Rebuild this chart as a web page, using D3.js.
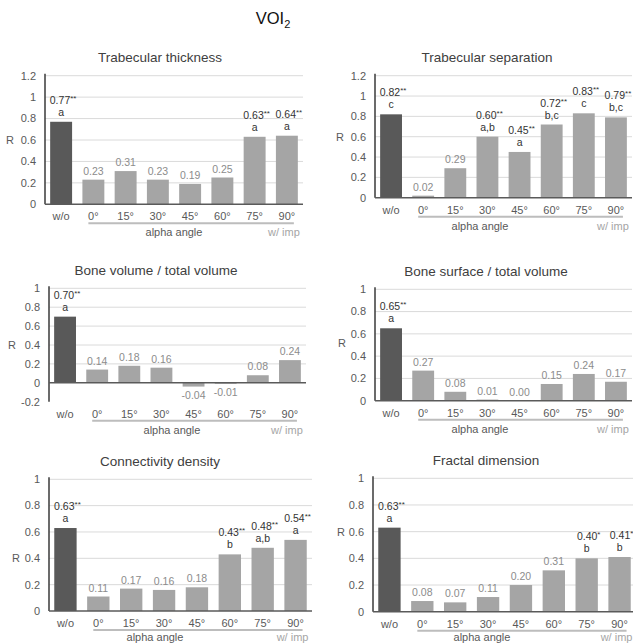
<!DOCTYPE html>
<html>
<head>
<meta charset="utf-8">
<script src="https://cdn.jsdelivr.net/npm/d3@7"></script>
<style>
  body { margin: 0; background: #fff; }
  svg { font-family: "Liberation Sans", Arial, sans-serif; }
</style>
</head>
<body>
<svg id="chart" width="633" height="644"></svg>
<script>
// categories on the x axis
const categories = ["w/o", "0°", "15°", "30°", "45°", "60°", "75°", "90°"];

// Trabecular thickness
const tbThValues = [0.77, 0.23, 0.31, 0.23, 0.19, 0.25, 0.63, 0.64];
const tbThStars = ["**", "", "", "", "", "", "**", "**"];
const tbThLetters = ["a", "", "", "", "", "", "a", "a"];

// Trabecular separation
const tbSpValues = [0.82, 0.02, 0.29, 0.60, 0.45, 0.72, 0.83, 0.79];
const tbSpStars = ["**", "", "", "**", "**", "**", "**", "**"];
const tbSpLetters = ["c", "", "", "a,b", "a", "b,c", "c", "b,c"];

// Bone volume / total volume
const bvTvValues = [0.70, 0.14, 0.18, 0.16, -0.04, -0.01, 0.08, 0.24];
const bvTvStars = ["**", "", "", "", "", "", "", ""];
const bvTvLetters = ["a", "", "", "", "", "", "", ""];

// Bone surface / total volume
const bsTvValues = [0.65, 0.27, 0.08, 0.01, 0.00, 0.15, 0.24, 0.17];
const bsTvStars = ["**", "", "", "", "", "", "", ""];
const bsTvLetters = ["a", "", "", "", "", "", "", ""];

// Connectivity density
const connDValues = [0.63, 0.11, 0.17, 0.16, 0.18, 0.43, 0.48, 0.54];
const connDStars = ["**", "", "", "", "", "**", "**", "**"];
const connDLetters = ["a", "", "", "", "", "b", "a,b", "a"];

// Fractal dimension
const fdValues = [0.63, 0.08, 0.07, 0.11, 0.20, 0.31, 0.40, 0.41];
const fdStars = ["**", "", "", "", "", "", "*", "*"];
const fdLetters = ["a", "", "", "", "", "", "b", "b"];

const yDomainTall = [0, 1.2];
const yDomainNeg = [-0.2, 1];
const yDomainStd = [0, 1];

const svg = d3.select("#chart");

// figure title
const main = svg.append("text")
    .attr("x", 273)
    .attr("y", 24)
    .attr("text-anchor", "middle")
    .attr("font-size", 16.5)
    .attr("fill", "#111");
main.append("tspan").text("VOI");
main.append("tspan").attr("font-size", 11).attr("dy", 4).text("2");

function drawPanel(p) {
  const g = svg.append("g");

  const x = d3.scaleBand()
      .domain(categories)
      .range([p.left, p.right])
      .paddingInner(0.32)
      .paddingOuter(0.16);

  const y = d3.scaleLinear()
      .domain(p.domain)
      .range([p.bottom, p.top]);

  const ticks = d3.range(p.domain[0], p.domain[1] + 0.001, 0.2).map(d => Math.round(d * 10) / 10);

  // gridlines
  g.selectAll(".grid")
      .data(ticks.filter(d => d > 0))
      .enter().append("line")
      .attr("x1", p.left).attr("x2", p.right)
      .attr("y1", d => y(d)).attr("y2", d => y(d))
      .attr("stroke", "#dadada")
      .attr("stroke-width", 1);

  // y tick labels
  g.selectAll(".ytick")
      .data(ticks)
      .enter().append("text")
      .attr("x", p.left - 9)
      .attr("y", d => y(d))
      .attr("dy", "0.35em")
      .attr("text-anchor", "end")
      .attr("font-size", 11)
      .attr("fill", "#595959")
      .text(d => String(d));

  // R label
  g.append("text")
      .attr("x", p.rX)
      .attr("y", y(p.rAt))
      .attr("dy", "0.35em")
      .attr("font-size", 11)
      .attr("fill", "#595959")
      .text("R");

  // bars
  g.selectAll(".bar")
      .data(p.values)
      .enter().append("rect")
      .attr("x", (d, i) => x(categories[i]))
      .attr("y", d => y(Math.max(d, 0)))
      .attr("width", x.bandwidth())
      .attr("height", d => Math.abs(y(d) - y(0)))
      .attr("fill", (d, i) => i === 0 ? "#595959" : "#a5a5a5");

  // axes lines
  g.append("line")
      .attr("x1", p.left).attr("x2", p.left)
      .attr("y1", p.top - 2).attr("y2", p.bottom)
      .attr("stroke", "#3a3a3a").attr("stroke-width", 1.5);
  g.append("line")
      .attr("x1", p.left).attr("x2", p.right)
      .attr("y1", y(0)).attr("y2", y(0))
      .attr("stroke", "#5a5a5a").attr("stroke-width", 1.5);

  // value labels
  p.values.forEach((v, i) => {
    const cx = x(categories[i]) + x.bandwidth() / 2;
    const sig = p.stars[i] !== "";
    if (!sig) {
      const yy = v < 0 ? y(v) + 12 : y(v) - 5;
      g.append("text")
          .attr("x", cx).attr("y", yy)
          .attr("text-anchor", "middle")
          .attr("font-size", 10.5)
          .attr("fill", "#8c8c8c")
          .text(v.toFixed(2));
    } else {
      const base = y(v) - 6;
      g.append("text")
          .attr("x", cx).attr("y", base)
          .attr("text-anchor", "middle")
          .attr("font-size", 10.5)
          .attr("fill", "#333")
          .text(p.letters[i]);
      const t = g.append("text")
          .attr("x", cx + 2).attr("y", base - 12)
          .attr("text-anchor", "middle")
          .attr("font-size", 10.5)
          .attr("fill", "#333");
      t.append("tspan").text(v.toFixed(2));
      t.append("tspan").attr("font-size", 8).attr("dy", -3).text(p.stars[i]);
    }
  });

  // x tick labels
  const labelY = p.bottom + 16;
  g.selectAll(".xtick")
      .data(categories)
      .enter().append("text")
      .attr("x", d => x(d) + x.bandwidth() / 2)
      .attr("y", labelY)
      .attr("text-anchor", "middle")
      .attr("font-size", 11)
      .attr("fill", "#595959")
      .text(d => d);

  // bracket line under angle labels
  const c0 = x(categories[1]) + x.bandwidth() / 2;
  const c7 = x(categories[7]) + x.bandwidth() / 2;
  g.append("line")
      .attr("x1", c0 - 5).attr("x2", c7 + 7)
      .attr("y1", labelY + 3).attr("y2", labelY + 3)
      .attr("stroke", "#bdbdbd").attr("stroke-width", 2);

  g.append("text")
      .attr("x", p.alphaX).attr("y", labelY + p.subDy)
      .attr("text-anchor", "middle")
      .attr("font-size", 11)
      .attr("fill", "#595959")
      .text("alpha angle");

  g.append("text")
      .attr("x", c7 - 3).attr("y", labelY + p.subDy)
      .attr("text-anchor", "middle")
      .attr("font-size", 11)
      .attr("fill", "#a5a5a5")
      .text("w/ imp");

  // panel title
  g.append("text")
      .attr("x", p.titleX).attr("y", p.top - 18)
      .attr("dy", "0.35em")
      .attr("text-anchor", "middle")
      .attr("font-size", 13.5)
      .attr("fill", "#404040")
      .text(p.title);
}

const panels = [
  { title: "Trabecular thickness", values: tbThValues, stars: tbThStars, letters: tbThLetters,
    domain: yDomainTall, left: 45, right: 303, top: 75.7, bottom: 204.3, titleX: 160, rX: 6, rAt: 0.6, alphaX: 174, subDy: 16 },
  { title: "Trabecular separation", values: tbSpValues, stars: tbSpStars, letters: tbSpLetters,
    domain: yDomainTall, left: 375, right: 632, top: 75.7, bottom: 197.7, titleX: 487, rX: 336, rAt: 0.6, alphaX: 480, subDy: 16 },
  { title: "Bone volume / total volume", values: bvTvValues, stars: bvTvStars, letters: bvTvLetters,
    domain: yDomainNeg, left: 49, right: 306, top: 288.3, bottom: 401.7, titleX: 156, rX: 8, rAt: 0.4, alphaX: 172, subDy: 16 },
  { title: "Bone surface / total volume", values: bsTvValues, stars: bsTvStars, letters: bsTvLetters,
    domain: yDomainStd, left: 375, right: 632, top: 289.3, bottom: 400.7, titleX: 486, rX: 338, rAt: 0.52, alphaX: 480, subDy: 16 },
  { title: "Connectivity density", values: connDValues, stars: connDStars, letters: connDLetters,
    domain: yDomainStd, left: 49, right: 312, top: 479.3, bottom: 611, titleX: 160, rX: 12, rAt: 0.4, alphaX: 155, subDy: 13.5 },
  { title: "Fractal dimension", values: fdValues, stars: fdStars, letters: fdLetters,
    domain: yDomainStd, left: 373, right: 636, top: 478.3, bottom: 611.7, titleX: 486, rX: 337, rAt: 0.6, alphaX: 482, subDy: 13 }
];

panels.forEach(drawPanel);
</script>
</body>
</html>
